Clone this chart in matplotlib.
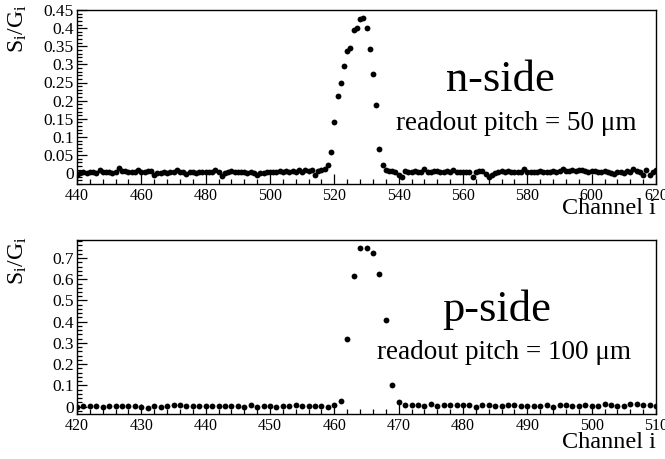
import numpy as np
import matplotlib
matplotlib.use("Agg")
import matplotlib.pyplot as plt
from matplotlib.ticker import MultipleLocator, FuncFormatter

plt.rcParams['font.family'] = ['Liberation Serif', 'DejaVu Serif']
plt.rcParams['mathtext.fontset'] = 'custom'
plt.rcParams['mathtext.rm'] = 'Liberation Serif'
plt.rcParams['mathtext.it'] = 'Liberation Serif:italic'

# ---- n-side: channels 440..620 ----
n_first_channel = 440
n_signal_left = [
    -0.005, 0.000, 0.002, 0.000, 0.004, 0.002, 0.001, 0.009, 0.003, 0.002,
    0.004, 0.000, 0.003, 0.013, 0.006, 0.005, 0.003, 0.002, 0.004, 0.008,
    0.003, 0.004, 0.006, 0.005, -0.004, -0.001, 0.000, 0.002, 0.001, 0.003,
    0.004, 0.008, 0.004, 0.002, -0.003, 0.002, 0.003, 0.001, 0.003, 0.002,
    0.004, 0.002, 0.004, 0.010, 0.002, -0.007, 0.000, 0.003, 0.005, 0.002,
    0.004, 0.002, 0.003, 0.001, 0.002, 0.000, -0.004, 0.000, 0.001, 0.003,
    0.002, 0.004, 0.002, 0.005, 0.003, 0.006, 0.002, 0.007, 0.003, 0.009,
    0.004, 0.009, 0.005, 0.008, -0.006, 0.007, 0.010, 0.012, 0.022,
]
n_signal_peak = [
    0.059, 0.142, 0.213, 0.250, 0.296, 0.337, 0.346, 0.395, 0.399, 0.424,
    0.427, 0.401, 0.343, 0.274, 0.188, 0.067, 0.022,
]
n_signal_right = [
    0.008, 0.006, 0.006, 0.002, -0.004, -0.010, 0.006, 0.004, 0.002, 0.006,
    0.003, 0.002, 0.011, 0.004, 0.003, 0.005, 0.006, 0.003, 0.002, 0.005,
    0.004, 0.009, 0.002, 0.004, 0.003, 0.003, 0.002, -0.010, 0.004, 0.006,
    0.007, -0.002, -0.012, -0.004, 0.001, 0.003, 0.005, 0.004, 0.006, 0.002,
    0.003, 0.004, 0.003, 0.011, 0.003, 0.004, 0.002, 0.004, 0.006, 0.003,
    0.002, 0.004, 0.005, 0.002, 0.006, 0.011, 0.006, 0.005, 0.008, 0.007,
    0.009, 0.008, 0.006, 0.004, 0.007, 0.005, 0.002, 0.004, 0.006, 0.002,
    0.001, -0.002, 0.003, 0.003, 0.001, 0.005, 0.004, 0.011, 0.007, 0.004,
    -0.004, 0.010, -0.004, 0.004, 0.010,
]

# ---- p-side: channels 420..510 ----
p_first_channel = 420
p_signal_left = [
    0.000, 0.002, 0.002, 0.005, 0.000, 0.002, 0.002, 0.003, 0.003, 0.003,
    -0.002, -0.005, 0.005, -0.002, 0.003, 0.008, 0.008, 0.005, 0.003, 0.002,
    0.003, 0.003, 0.003, 0.003, 0.003, 0.002, -0.002, 0.006, -0.002, 0.005,
    0.003, -0.003, 0.003, 0.005, 0.009, 0.005, 0.003, 0.003, 0.003, 0.000,
    0.008, 0.024,
]
p_signal_peak = [0.318, 0.616, 0.746, 0.749, 0.722, 0.623, 0.407, 0.104, 0.022]
p_signal_right = [
    0.009, 0.008, 0.006, 0.005, 0.013, 0.003, 0.006, 0.006, 0.008, 0.008,
    0.006, -0.004, 0.006, 0.006, 0.005, 0.005, 0.006, 0.008, 0.005, 0.005,
    0.003, 0.003, 0.008, 0.000, 0.008, 0.008, 0.002, 0.005, 0.006, 0.005,
    0.003, 0.011, 0.009, 0.005, 0.003, 0.011, 0.011, 0.008, 0.006, 0.005,
]

n_signal = np.array(n_signal_left + n_signal_peak + n_signal_right)
p_signal = np.array(p_signal_left + p_signal_peak + p_signal_right)
n_channels = n_first_channel + np.arange(len(n_signal))
p_channels = p_first_channel + np.arange(len(p_signal))

W, H = 665, 459
fig = plt.figure(figsize=(W / 100, H / 100), dpi=100)


def px_axes(left, top, right, bottom):
    return fig.add_axes([left / W, 1 - bottom / H, (right - left) / W, (bottom - top) / H])


def ytick_fmt(v, pos):
    return '0' if abs(v) < 1e-9 else '%g' % round(v, 4)


def style(ax, xlim, ylim, xmaj, xmin, ymaj, ymin):
    ax.set_xlim(*xlim)
    ax.set_ylim(*ylim)
    ax.xaxis.set_major_locator(MultipleLocator(xmaj))
    ax.xaxis.set_minor_locator(MultipleLocator(xmin))
    ax.yaxis.set_major_locator(MultipleLocator(ymaj))
    ax.yaxis.set_minor_locator(MultipleLocator(ymin))
    ax.yaxis.set_major_formatter(FuncFormatter(ytick_fmt))
    ax.xaxis.set_major_formatter(FuncFormatter(lambda v, p: '%d' % round(v)))
    ax.tick_params(which='both', direction='in', top=False, right=False,
                   width=0.9, pad=3)
    ax.tick_params(axis='x', labelsize=11.5)
    ax.tick_params(axis='y', labelsize=12.5, pad=2.5)
    ax.tick_params(which='major', length=7)
    ax.tick_params(which='minor', length=3.5)
    for s in ax.spines.values():
        s.set_linewidth(1.0)


ax1 = px_axes(77, 10, 656, 184)
ax1.plot(n_channels, n_signal, 'o', color='black', ms=4.2, mew=0)
style(ax1, (440, 620), (-0.03, 0.45), 20, 4, 0.05, 0.01)
ax1.text(571.5, 0.257, 'n-side', fontsize=32, ha='center', va='center')
ax1.text(576.5, 0.138, 'readout pitch = 50 \u03bcm', fontsize=19.5, ha='center', va='center')

ax2 = px_axes(77, 240, 656, 414)
ax2.plot(p_channels, p_signal, 'o', color='black', ms=4.2, mew=0)
style(ax2, (420, 510), (-0.035, 0.785), 10, 2, 0.1, 0.02)
ax2.text(485.3, 0.454, 'p-side', fontsize=32, ha='center', va='center')
ax2.text(486.4, 0.255, 'readout pitch = 100 \u03bcm', fontsize=19.5, ha='center', va='center')

for top_px, xlab_px in [(4, 209), (236, 443)]:
    fig.text(18 / W, 1 - top_px / H, r'$\mathregular{S_i/G_i}$', rotation=90,
             ha='center', va='top', fontsize=17)
    fig.text(656 / W, 1 - xlab_px / H, 'Channel i', ha='right', va='center', fontsize=17.5)

fig.savefig('out.png', dpi=100)
